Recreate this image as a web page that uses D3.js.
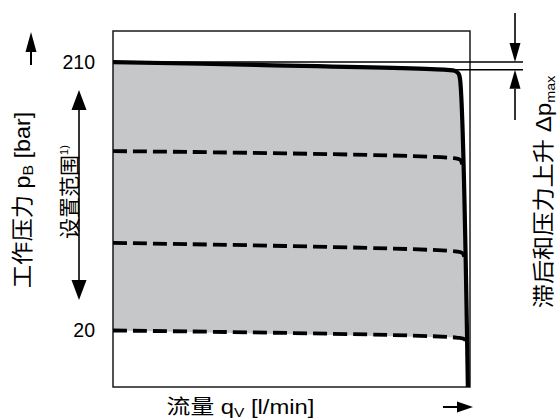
<!DOCTYPE html>
<html>
<head>
<meta charset="utf-8">
<script src="https://cdn.jsdelivr.net/npm/d3@7"></script>
<style>
  html, body { margin: 0; padding: 0; background: #fff; }
  svg { display: block; font-family: "Liberation Sans", "Noto Sans CJK SC", sans-serif; }
</style>
</head>
<body>
<div id="chart"></div>
<script>
// characteristic curve: flow [% of max] vs pressure [bar]
const topFlow = [0, 40, 93.5, 95.8, 96.8, 97.2, 99.4];
const topBar  = [210, 208, 204.5, 203.8, 201.8, 198, -20];

// lower pressure settings (dashed)
const dashFlow = [
  [0, 95.5, 97.3, 97.8],
  [0, 95.9, 97.9, 98.45],
  [0, 96.2, 98.5, 99.05]
];
const dashBar = [
  [147, 142, 140.8, 137.5],
  [82, 76, 74.8, 71.5],
  [20, 15, 13.8, 10]
];

const yTicks = [20, 210];

const W = 557, H = 420;
const M = {top: 31, right: 87, bottom: 33, left: 113};
const innerW = W - M.left - M.right;
const innerH = H - M.top - M.bottom;

const svg = d3.select("#chart").append("svg")
  .attr("width", W).attr("height", H).attr("viewBox", `0 0 ${W} ${H}`);

const x = d3.scaleLinear().domain([0, 100]).range([M.left, M.left + innerW]);
const y = d3.scaleLinear().domain([-20, 232]).range([M.top + innerH, M.top]);

const zip = (a, b) => a.map((v, i) => [v, b[i]]);
const topPts = zip(topFlow, topBar);
const dashPts = dashFlow.map((f, i) => zip(f, dashBar[i]));

const line = d3.line().x(d => x(d[0])).y(d => y(d[1])).curve(d3.curveCatmullRom.alpha(0.5));

// gray fill between full-setting curve and lowest setting
const lowest = dashPts[dashPts.length - 1];
const fillPts = topPts.slice(0, 6).concat(lowest.slice().reverse());
svg.append("path")
  .attr("d", d3.line().x(d => x(d[0])).y(d => y(d[1])).curve(d3.curveLinearClosed)(fillPts))
  .attr("fill", "#c6c7c9");

// frame
svg.append("rect")
  .attr("x", M.left).attr("y", M.top).attr("width", innerW).attr("height", innerH)
  .attr("fill", "none").attr("stroke", "#1a1a1a").attr("stroke-width", 1.5);

// dashed lines
svg.selectAll("path.dash").data(dashPts).join("path")
  .attr("class", "dash")
  .attr("d", line)
  .attr("fill", "none").attr("stroke", "#000")
  .attr("stroke-width", 3.8).attr("stroke-dasharray", "14,6");

// main curve
svg.append("path")
  .attr("d", line(topPts))
  .attr("fill", "none").attr("stroke", "#000")
  .attr("stroke-width", 4.2).attr("stroke-linejoin", "round");

// reference lines for delta p max
const dimX = 515;
svg.append("line")
  .attr("x1", x(0)).attr("x2", dimX + 8)
  .attr("y1", y(topBar[0])).attr("y2", y(topBar[0]))
  .attr("stroke", "#000").attr("stroke-width", 1.5);
svg.append("line")
  .attr("x1", x(topFlow[2])).attr("x2", dimX + 8)
  .attr("y1", y(topBar[2])).attr("y2", y(topBar[2]))
  .attr("stroke", "#000").attr("stroke-width", 1.5);

function arrow(x1, y1, x2, y2, len, half, sw) {
  const a = Math.atan2(y2 - y1, x2 - x1);
  const bx = x2 - len * Math.cos(a), by = y2 - len * Math.sin(a);
  svg.append("line").attr("x1", x1).attr("y1", y1).attr("x2", bx).attr("y2", by)
    .attr("stroke", "#000").attr("stroke-width", sw);
  const px = -Math.sin(a) * half, py = Math.cos(a) * half;
  svg.append("path")
    .attr("d", `M${x2},${y2}L${bx + px},${by + py}L${bx - px},${by - py}Z`)
    .attr("fill", "#000");
}

// dimension arrows
arrow(dimX, 13, dimX, y(topBar[0]), 19, 5.5, 1.6);
arrow(dimX, 120, dimX, y(topBar[2]), 19, 5.5, 1.6);

// axis direction arrows
arrow(31, 65, 31, 32, 20, 5.5, 2);
arrow(443, 407, 473, 407, 16, 5.5, 2);

// setting range double arrow
arrow(79, 200, 79, 90, 20, 7.5, 1.6);
arrow(79, 200, 79, 300, 20, 7.5, 1.6);

// y tick labels
const yAxis = svg.append("g")
  .attr("transform", `translate(${M.left},0)`)
  .call(d3.axisLeft(y).tickValues(yTicks).tickSize(0).tickPadding(18).tickFormat(d3.format("d")));
yAxis.select(".domain").remove();
yAxis.selectAll("text").attr("font-size", 19.5).attr("fill", "#000")
  .attr("font-family", "Liberation Sans, sans-serif");

// axis titles
const yt = svg.append("text")
  .attr("transform", "translate(30,200) rotate(-90) scale(1.06,1)")
  .attr("text-anchor", "middle").attr("font-size", 22);
yt.append("tspan").text("工作压力 p");
yt.append("tspan").text("B").attr("font-size", 15).attr("dy", 3);
yt.append("tspan").text(" [bar]").attr("dy", -3);

const st = svg.append("text")
  .attr("transform", "translate(77,192) rotate(-90)")
  .attr("text-anchor", "middle").attr("font-size", 21);
st.append("tspan").text("设置范围");
st.append("tspan").text("1)").attr("font-size", 11).attr("dy", -9);

const rt = svg.append("text")
  .attr("transform", "translate(551,192) rotate(-90) scale(1.1,1)")
  .attr("text-anchor", "middle").attr("font-size", 22);
rt.append("tspan").text("滞后和压力上升 Δp");
rt.append("tspan").text("max").attr("font-size", 13).attr("dy", 4);

const xt = svg.append("text")
  .attr("transform", "translate(240.5,414) scale(1.19,1)")
  .attr("text-anchor", "middle").attr("font-size", 20);
xt.append("tspan").text("流量 q");
xt.append("tspan").text("V").attr("font-size", 13).attr("dy", 3);
xt.append("tspan").text(" [l/min]").attr("dy", -3);
</script>
</body>
</html>
